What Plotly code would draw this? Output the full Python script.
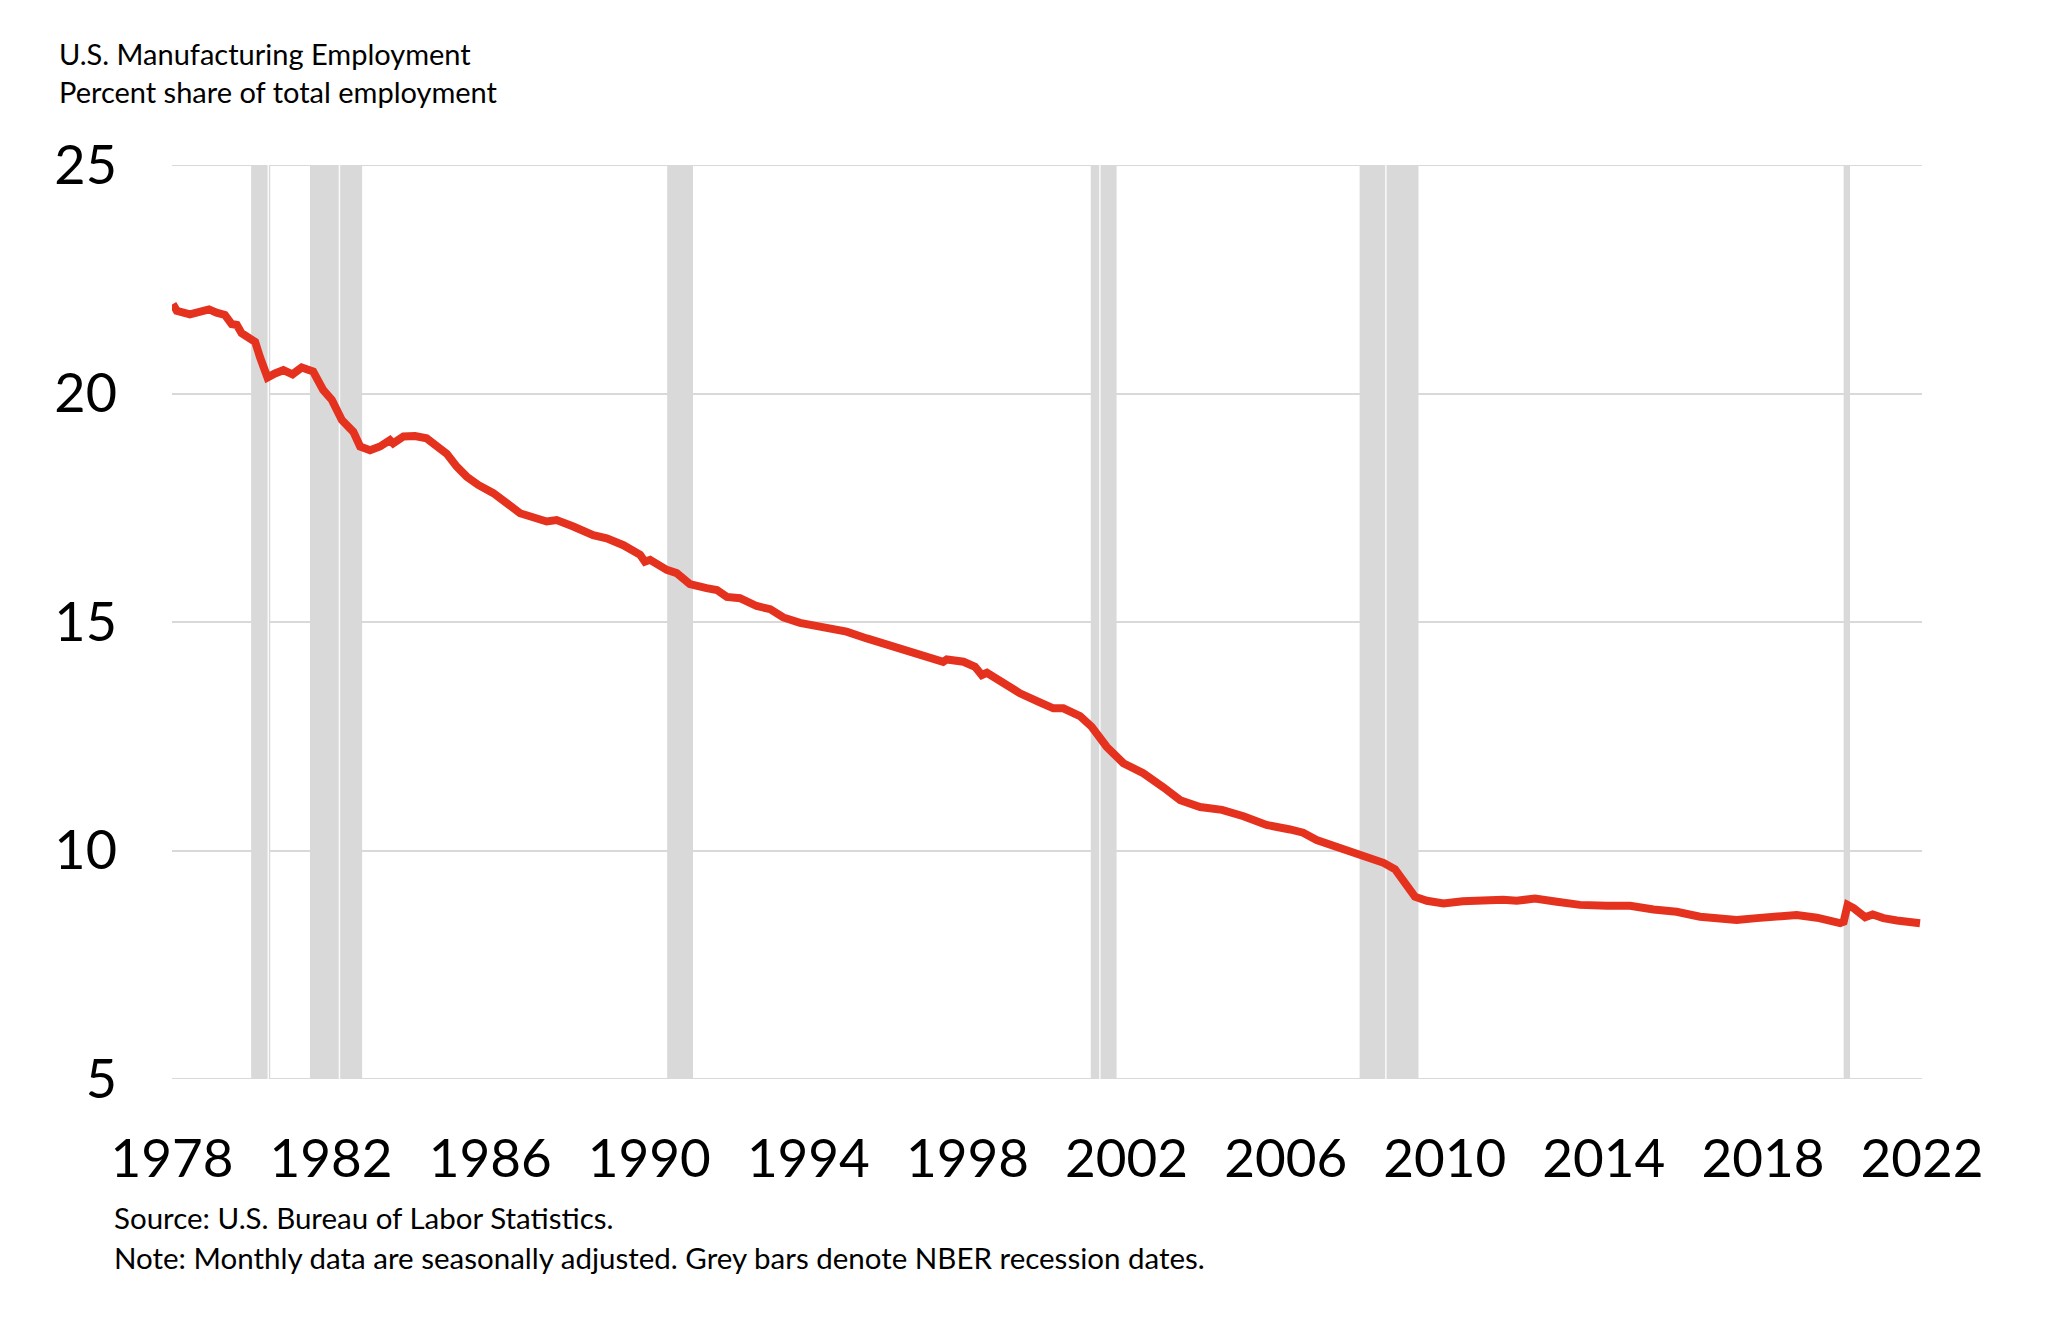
import plotly.graph_objects as go

# Data (decimal years, percent share)
years = [
    1978.02, 1978.12, 1978.45, 1978.70, 1978.93, 1979.12, 1979.33, 1979.50, 1979.63, 1979.75,
    1980.09, 1980.21, 1980.40, 1980.59, 1980.80, 1981.03, 1981.26, 1981.55, 1981.80, 1982.02,
    1982.27, 1982.56, 1982.73, 1982.98, 1983.23, 1983.48, 1983.56, 1983.82, 1984.11, 1984.40,
    1984.66, 1984.91, 1985.16, 1985.41, 1985.70, 1986.08, 1986.42, 1986.75, 1987.42, 1987.67,
    1988.09, 1988.59, 1988.93, 1989.35, 1989.77, 1989.89, 1990.02, 1990.44, 1990.69, 1991.02,
    1991.44, 1991.70, 1991.95, 1992.28, 1992.70, 1993.04, 1993.37, 1993.79, 1994.29, 1994.96,
    1995.47, 1995.80, 1996.30, 1996.89, 1997.39, 1997.48, 1997.90, 1998.19, 1998.36, 1998.49,
    1998.90, 1999.32, 1999.82, 2000.16, 2000.41, 2000.83, 2001.12, 2001.50, 2001.92, 2002.42,
    2002.93, 2003.35, 2003.85, 2004.40, 2004.94, 2005.52, 2006.11, 2006.44, 2006.78, 2007.28,
    2007.70, 2008.12, 2008.46, 2008.75, 2008.96, 2009.25, 2009.55, 2009.97, 2010.45, 2010.95,
    2011.47, 2011.81, 2012.27, 2012.82, 2013.40, 2014.08, 2014.66, 2015.25, 2015.83, 2016.42,
    2016.84, 2017.34, 2017.85, 2018.35, 2018.85, 2019.36, 2019.69, 2019.94, 2020.03, 2020.13,
    2020.28, 2020.57, 2020.76, 2021.03, 2021.37, 2021.70, 2021.95,
]
share = [
    21.96, 21.81, 21.73, 21.77, 21.84, 21.77, 21.72, 21.52, 21.50, 21.32,
    21.13, 20.80, 20.35, 20.44, 20.51, 20.42, 20.57, 20.48, 20.08, 19.86,
    19.42, 19.16, 18.84, 18.76, 18.84, 18.98, 18.91, 19.06, 19.07, 19.02,
    18.84, 18.68, 18.40, 18.18, 18.00, 17.82, 17.60, 17.38, 17.20, 17.23,
    17.09, 16.90, 16.83, 16.68, 16.47, 16.32, 16.36, 16.14, 16.07, 15.83,
    15.74, 15.70, 15.55, 15.52, 15.35, 15.28, 15.10, 14.98, 14.90, 14.79,
    14.64, 14.55, 14.39, 14.26, 14.13, 14.18, 14.13, 14.02, 13.84, 13.89,
    13.66, 13.44, 13.24, 13.11, 13.11, 12.94, 12.71, 12.27, 11.91, 11.69,
    11.38, 11.10, 10.95, 10.89, 10.75, 10.56, 10.46, 10.39, 10.23, 10.08,
    9.95, 9.86, 9.73, 9.59, 9.32, 8.99, 8.90, 8.84, 8.89, 8.92,
    8.92, 8.90, 8.95, 8.88, 8.81, 8.79, 8.79, 8.71, 8.66, 8.55,
    8.50, 8.48, 8.52, 8.57, 8.59, 8.53, 8.47, 8.41, 8.44, 8.81,
    8.74, 8.54, 8.60, 8.52, 8.47, 8.46, 8.41,
]

# NBER recession periods (start, end) as drawn
recession_start = [1979.99, 1981.47, 1990.45, 2001.10, 2007.86, 2020.03]
recession_end = [1980.47, 1982.78, 1991.10, 2001.75, 2009.34, 2020.19]
# thin light seams visible inside some of the grey bars
recession_seams = [1980.42, 1982.21, 2001.33, 2008.52]

x_ticks = [1978, 1982, 1986, 1990, 1994, 1998, 2002, 2006, 2010, 2014, 2018, 2022]
y_ticks = [5, 10, 15, 20, 25]

title_lines = ["U.S. Manufacturing Employment", "Percent share of total employment"]
footer_lines = [
    "Source: U.S. Bureau of Labor Statistics.",
    "Note: Monthly data are seasonally adjusted. Grey bars denote NBER recession dates.",
]

FONT = "Lato, 'Open Sans', sans-serif"
GRID = "#D9D9D9"

fig = go.Figure()
fig.add_trace(go.Scatter(
    x=years, y=share, mode="lines",
    line=dict(color="#E5321F", width=8),
    showlegend=False, hoverinfo="skip",
))

# edge gridlines (plotly omits gridlines at the range ends)
for yv in (y_ticks[0], y_ticks[-1]):
    fig.add_shape(type="line", xref="paper", yref="y", x0=0, x1=1, y0=yv, y1=yv,
                  line=dict(color=GRID, width=2), layer="below")

for s, e in zip(recession_start, recession_end):
    fig.add_shape(type="rect", xref="x", yref="y", x0=s, x1=e, y0=y_ticks[0], y1=y_ticks[-1],
                  fillcolor=GRID, line_width=0, layer="between")
for sx in recession_seams:
    fig.add_shape(type="line", xref="x", yref="y", x0=sx, x1=sx, y0=y_ticks[0], y1=y_ticks[-1],
                  line=dict(color="rgba(255,255,255,0.85)", width=1.5), layer="between")

# page body has an 8px margin; size/margins compensate so the plot area lands at
# x 172..1922, y 165..1079 of the window
fig.update_layout(
    width=2040, height=1312,
    margin=dict(l=164, r=126, t=157, b=241),
    paper_bgcolor="white", plot_bgcolor="white",
    font=dict(family=FONT, color="black"),
    showlegend=False,
)
fig.update_xaxes(
    range=[1978, 2022], tickvals=x_ticks, ticktext=[str(t) for t in x_ticks],
    showgrid=False, zeroline=False, showline=False, ticks="",
    tickfont=dict(size=53, family=FONT, color="black"),
    ticklabelstandoff=44,
)
fig.update_yaxes(
    range=[5, 25], tickvals=y_ticks, ticktext=[str(t) for t in y_ticks],
    showgrid=True, gridcolor=GRID, gridwidth=2, zeroline=False, showline=False,
    ticks="", tickfont=dict(size=54, family=FONT, color="black"),
    ticklabelstandoff=54,
)

# Title lines (top-left)
for txt, yv in zip(title_lines, [1.1225, 1.0800]):
    fig.add_annotation(text=txt, xref="paper", yref="paper", x=-0.0660, y=yv,
                       xanchor="left", yanchor="middle", showarrow=False,
                       font=dict(size=29, family=FONT, color="black"))
# Footer lines
for txt, yv in zip(footer_lines, [-0.152, -0.1950]):
    fig.add_annotation(text=txt, xref="paper", yref="paper", x=-0.0345, y=yv,
                       xanchor="left", yanchor="middle", showarrow=False,
                       font=dict(size=29.5, family=FONT, color="black"))

fig.write_html("out.html")
